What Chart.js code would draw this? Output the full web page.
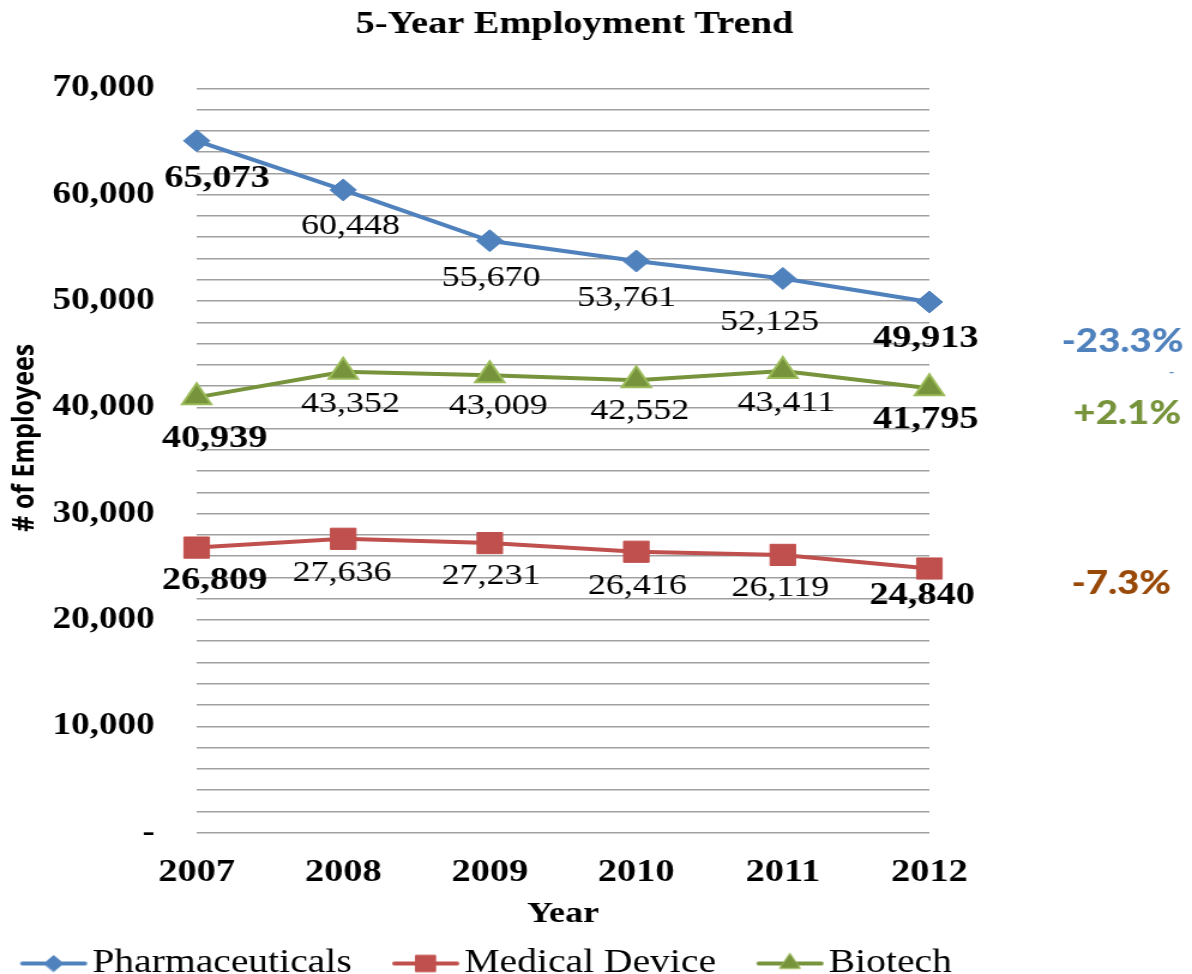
<!DOCTYPE html>
<html>
<head>
<meta charset="utf-8">
<title>5-Year Employment Trend</title>
<script src="https://cdn.jsdelivr.net/npm/chart.js@4/dist/chart.umd.min.js"></script>
<style>
  html, body { margin: 0; padding: 0; background: #fff; overflow: hidden; }
  #wrap { width: 1192px; height: 974px; overflow: hidden; }
  /* the chart is drawn on a narrower canvas and widened to the page width */
  #c { display: block; transform-origin: 0 0; transform: scaleX(1.19920); }
</style>
</head>
<body>
<div id="wrap"><canvas id="c" width="994" height="974" style="width:994px;height:974px"></canvas></div>
<script>
// ---- data ----
const years = ['2007', '2008', '2009', '2010', '2011', '2012'];
const seriesNames = ['Pharmaceuticals', 'Medical Device', 'Biotech'];
const pharmaceuticals = [65073, 60448, 55670, 53761, 52125, 49913];
const medicalDevice = [26809, 27636, 27231, 26416, 26119, 24840];
const biotech = [40939, 43352, 43009, 42552, 43411, 41795];
const changeLabels = ['-23.3%', '-7.3%', '+2.1%'];
const yMax = 70000;
const yStep = 2000;
const yLabelStep = 10000;

// ---- styles ----
const SERIF = '"Liberation Serif", "Times New Roman", serif';
const colors = {
  pharma: '#4F81BD',
  medical: '#C0504D',
  biotech: '#77933C',
  biotechEdge: '#9BBB59',
  grid: '#A0A0A0'
};
const changeColors = ['#4F81BD', '#984807', '#77933C'];

// value label placement (px, relative to each point)
const labelPlacement = [
  { dx: [17, 6, 1, -8, -11, -3], dy: [38, 36, 37, 37, 44, 37] },
  { dx: [15, -1, 1, 1, -2, -6], dy: [33, 34, 33, 34, 33, 27] },
  { dx: [15, 6, 7, 3, 3, -3], dy: [41, 32, 31, 31, 32, 31] }
];
// change annotations: offset from the chart's right edge and from the last point
const changePlacement = [
  { dx: 161, dy: 40 },
  { dx: 160, dy: 15 },
  { dx: 165, dy: 25 }
];

// legend glyph: a short line with the series marker in its middle,
// placed toward the right of a wider transparent image
function legendGlyph(lineColor, style, fill, edge, radius) {
  const w = 96, h = 30, x0 = 38, len = 56;
  const cv = document.createElement('canvas');
  cv.width = w; cv.height = h;
  const g = cv.getContext('2d');
  g.strokeStyle = lineColor;
  g.lineWidth = 4;
  g.lineCap = 'round';
  g.beginPath();
  g.moveTo(x0 + 2, h / 2);
  g.lineTo(x0 + len - 2, h / 2);
  g.stroke();
  g.fillStyle = fill;
  g.strokeStyle = edge;
  g.lineWidth = 1;
  Chart.helpers.drawPoint(g, { pointStyle: style, radius: radius, borderWidth: 1, rotation: 0 }, x0 + len / 2, h / 2);
  return cv;
}

const glyphs = [
  legendGlyph(colors.pharma, 'rectRot', colors.pharma, colors.pharma, 8),
  legendGlyph(colors.medical, 'rect', colors.medical, colors.medical, 11.5),
  legendGlyph(colors.biotech, 'triangle', colors.biotech, colors.biotechEdge, 10)
];

// value labels under each point, first and last in bold
const valueLabels = {
  id: 'valueLabels',
  afterDatasetsDraw(chart) {
    const ctx = chart.ctx;
    ctx.save();
    ctx.fillStyle = '#000';
    ctx.textAlign = 'center';
    ctx.textBaseline = 'middle';
    chart.data.datasets.forEach((ds, i) => {
      const meta = chart.getDatasetMeta(i);
      const place = labelPlacement[i];
      meta.data.forEach((pt, j) => {
        const edge = j === 0 || j === ds.data.length - 1;
        ctx.font = edge ? 'bold 32px ' + SERIF : '30px ' + SERIF;
        const text = ds.data[j].toLocaleString('en-US');
        ctx.fillText(text, pt.x + place.dx[j], pt.y + place.dy[j]);
      });
    });
    ctx.restore();
  }
};

// overall change annotations to the right of the plot
const changeNotes = {
  id: 'changeNotes',
  afterDraw(chart) {
    const ctx = chart.ctx;
    const right = chart.chartArea.right;
    ctx.save();
    ctx.textAlign = 'center';
    ctx.textBaseline = 'middle';
    ctx.font = '900 32px Lato, "Open Sans", sans-serif';
    chart.data.datasets.forEach((ds, i) => {
      const meta = chart.getDatasetMeta(i);
      const last = meta.data[meta.data.length - 1];
      ctx.fillStyle = changeColors[i];
      ctx.fillText(changeLabels[i], right + changePlacement[i].dx, last.y + changePlacement[i].dy);
    });
    // small dash under the first annotation
    const p0 = chart.getDatasetMeta(0).data;
    ctx.font = 'bold 12px Lato, sans-serif';
    ctx.fillStyle = changeColors[0];
    ctx.fillText('-', right + 202, p0[p0.length - 1].y + 70);
    ctx.restore();
  }
};

const datasets = [
  {
    label: seriesNames[0],
    data: pharmaceuticals,
    borderColor: colors.pharma,
    backgroundColor: colors.pharma,
    borderWidth: 4,
    pointStyle: 'rectRot',
    pointRadius: 11,
    pointBorderWidth: 1,
    pointBackgroundColor: colors.pharma,
    pointBorderColor: colors.pharma
  },
  {
    label: seriesNames[1],
    data: medicalDevice,
    borderColor: colors.medical,
    backgroundColor: colors.medical,
    borderWidth: 4,
    pointStyle: 'rect',
    pointRadius: 15,
    pointBorderWidth: 1,
    pointBackgroundColor: colors.medical,
    pointBorderColor: colors.medical
  },
  {
    label: seriesNames[2],
    data: biotech,
    borderColor: colors.biotech,
    backgroundColor: colors.biotech,
    borderWidth: 4,
    pointStyle: 'triangle',
    pointRadius: 14,
    pointBorderWidth: 2,
    pointBackgroundColor: colors.biotech,
    pointBorderColor: colors.biotechEdge
  }
];

new Chart(document.getElementById('c'), {
  type: 'line',
  data: { labels: years, datasets: datasets },
  plugins: [valueLabels, changeNotes],
  options: {
    responsive: false,
    animation: false,
    devicePixelRatio: 1,
    layout: { padding: { top: 6, left: -17, right: 19, bottom: -16 } },
    elements: { line: { tension: 0 } },
    plugins: {
      title: {
        display: true,
        text: '5-Year Employment Trend',
        color: '#000',
        font: { family: SERIF, size: 32, weight: 'bold', lineHeight: 1.2 },
        padding: { top: 0, bottom: 44 }
      },
      legend: {
        position: 'bottom',
        align: 'start',
        labels: {
          color: '#000',
          font: { family: SERIF, size: 33 },
          usePointStyle: true,
          pointStyleWidth: 67.5,
          padding: 10,
          generateLabels(chart) {
            return chart.data.datasets.map((ds, i) => ({
              text: ds.label,
              pointStyle: glyphs[i],
              fillStyle: ds.borderColor,
              strokeStyle: ds.borderColor,
              lineWidth: 0,
              fontColor: '#000',
              hidden: false,
              datasetIndex: i
            }));
          }
        }
      },
      tooltip: { enabled: false }
    },
    scales: {
      x: {
        offset: false,
        grid: { display: false, drawTicks: false },
        border: { display: false },
        ticks: {
          color: '#000',
          font: { family: SERIF, size: 32, weight: 'bold' },
          padding: 21,
          maxRotation: 0
        },
        title: {
          display: true,
          text: 'Year',
          color: '#000',
          font: { family: SERIF, size: 30, weight: 'bold' },
          padding: { top: -17, bottom: 5 }
        }
      },
      y: {
        min: 0,
        max: yMax,
        grid: { color: colors.grid, lineWidth: 1.5, drawTicks: false },
        border: { display: false },
        ticks: {
          stepSize: yStep,
          autoSkip: false,
          color: '#000',
          font: { family: SERIF, size: 31, weight: 'bold' },
          padding: 35,
          callback(v) {
            if (v === 0) return '-';
            return v % yLabelStep === 0 ? v.toLocaleString('en-US') : '';
          }
        },
        title: {
          display: true,
          text: '       # of Employees',
          color: '#000',
          font: { family: '"Open Sans", sans-serif', size: 25, weight: 'bold' },
          padding: { top: 23, bottom: 0 }
        },
        afterFit(scale) { scale.width = 181; }
      },
      side: {
        position: 'right',
        min: 0,
        max: yMax,
        grid: { display: false, drawTicks: false },
        border: { display: false },
        ticks: { display: false },
        afterFit(scale) { scale.width = 200; }
      }
    }
  }
});
</script>
</body>
</html>
